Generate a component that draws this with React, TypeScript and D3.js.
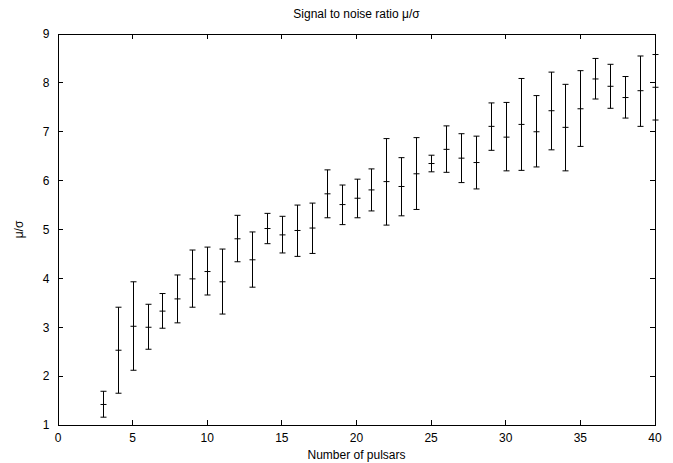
import React from "react";
import * as d3 from "d3";

// Number of pulsars in the array
const pulsarCounts = [3, 4, 5, 6, 7, 8, 9, 10, 11, 12, 13, 14, 15, 16, 17, 18, 19, 20, 21, 22, 23, 24, 25, 26, 27, 28, 29, 30, 31, 32, 33, 34, 35, 36, 37, 38, 39, 40];
// Mean signal-to-noise ratio
const snrMean = [1.42, 2.53, 3.02, 3.0, 3.33, 3.58, 3.99, 4.14, 3.93, 4.81, 4.38, 5.02, 4.89, 4.98, 5.03, 5.73, 5.51, 5.64, 5.81, 5.98, 5.88, 6.14, 6.35, 6.64, 6.46, 6.37, 7.11, 6.89, 7.15, 7.0, 7.43, 7.09, 7.47, 8.08, 7.93, 7.7, 7.84, 7.91];
// Lower and upper ends of the error bars
const snrLow = [1.16, 1.65, 2.12, 2.55, 2.98, 3.09, 3.41, 3.66, 3.27, 4.34, 3.82, 4.71, 4.52, 4.45, 4.51, 5.24, 5.1, 5.24, 5.38, 5.09, 5.28, 5.41, 6.18, 6.17, 5.96, 5.83, 6.62, 6.2, 6.21, 6.28, 6.63, 6.2, 6.7, 7.67, 7.48, 7.28, 7.11, 7.24];
const snrHigh = [1.69, 3.41, 3.93, 3.47, 3.69, 4.07, 4.58, 4.64, 4.6, 5.29, 4.95, 5.33, 5.27, 5.5, 5.54, 6.22, 5.91, 6.03, 6.24, 6.86, 6.47, 6.88, 6.52, 7.12, 6.96, 6.91, 7.59, 7.6, 8.09, 7.74, 8.22, 7.97, 8.25, 8.5, 8.38, 8.13, 8.55, 8.58];

const xTicks = [0, 5, 10, 15, 20, 25, 30, 35, 40];
const yTicks = [1, 2, 3, 4, 5, 6, 7, 8, 9];

const W = 673;
const H = 463;
const M = { left: 58, right: 18, top: 34, bottom: 38 };

export default function App() {
  const x = d3.scaleLinear().domain([0, 40]).range([M.left, W - M.right]);
  const y = d3.scaleLinear().domain([1, 9]).range([H - M.bottom, M.top]);
  const font = "'Liberation Sans', Arial, sans-serif";
  const tick = 5;
  const cap = 3;
  const cross = 3;
  const ink = "#000";
  const fs = 12;

  const points = pulsarCounts.map((n, i) => ({
    n,
    mean: snrMean[i],
    lo: snrLow[i],
    hi: snrHigh[i],
  }));

  return (
    <svg
      width={W}
      height={H}
      style={{ position: "absolute", left: 0, top: 0, background: "#fff" }}
      fontFamily={font}
    >
      <rect x={0} y={0} width={W} height={H} fill="#fff" />
      <text x={(M.left + W - M.right) / 2} y={18} textAnchor="middle" fontSize={fs}>
        Signal to noise ratio μ/σ
      </text>

      {/* ticks on all four sides, pointing inward */}
      <g stroke={ink} strokeWidth={1} shapeRendering="crispEdges">
        {xTicks.map((t) => (
          <g key={"xt" + t}>
            <line x1={x(t)} x2={x(t)} y1={y(1)} y2={y(1) - tick} />
            <line x1={x(t)} x2={x(t)} y1={y(9)} y2={y(9) + tick} />
          </g>
        ))}
        {yTicks.map((t) => (
          <g key={"yt" + t}>
            <line x1={x(0)} x2={x(0) + tick} y1={y(t)} y2={y(t)} />
            <line x1={x(40)} x2={x(40) - tick} y1={y(t)} y2={y(t)} />
          </g>
        ))}
      </g>

      <g fontSize={fs} fill={ink}>
        {xTicks.map((t) => (
          <text key={"xl" + t} x={x(t)} y={y(1) + 17} textAnchor="middle">
            {t}
          </text>
        ))}
        {yTicks.map((t) => (
          <text key={"yl" + t} x={x(0) - 8.5} y={y(t) + 4.3} textAnchor="end">
            {t}
          </text>
        ))}
      </g>

      <text x={(M.left + W - M.right) / 2} y={H - 4} textAnchor="middle" fontSize={fs}>
        Number of pulsars
      </text>
      <text
        transform={`translate(${23},${(M.top + H - M.bottom) / 2}) rotate(-90)`}
        textAnchor="middle"
        fontSize={fs}
      >
        μ/σ
      </text>

      {/* error bars with caps and a cross at the mean */}
      <g stroke={ink} strokeWidth={1}>
        {points.map((p) => {
          const cx = Math.round(x(p.n)) + 0.5;
          return (
            <g key={"p" + p.n}>
              <line x1={cx} x2={cx} y1={y(p.lo)} y2={y(p.hi)} />
              <line x1={cx - cap} x2={cx + cap} y1={y(p.lo)} y2={y(p.lo)} />
              <line x1={cx - cap} x2={cx + cap} y1={y(p.hi)} y2={y(p.hi)} />
              <line x1={cx - cross} x2={cx + cross} y1={y(p.mean)} y2={y(p.mean)} />
              <line x1={cx} x2={cx} y1={y(p.mean) - cross} y2={y(p.mean) + cross} />
            </g>
          );
        })}
      </g>

      <rect
        x={x(0)}
        y={y(9)}
        width={x(40) - x(0)}
        height={y(1) - y(9)}
        fill="none"
        stroke={ink}
        strokeWidth={1}
        shapeRendering="crispEdges"
      />
    </svg>
  );
}
